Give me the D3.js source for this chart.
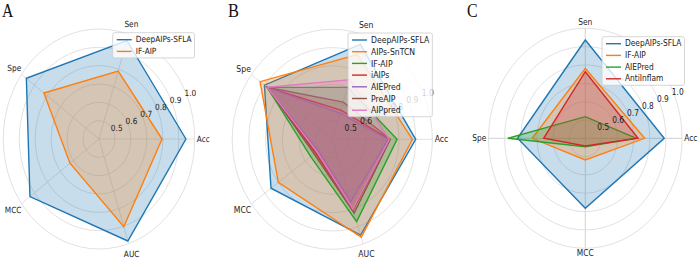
<!DOCTYPE html>
<html><head><meta charset="utf-8">
<script src="https://cdn.jsdelivr.net/npm/d3@7"></script>
<style>body{margin:0;background:#fff}svg{display:block}</style>
</head><body><svg id="chart" width="700" height="259"></svg>
<script>
// ---------- data ----------
const axesAB = ["Acc", "Sen", "Spe", "MCC", "AUC"];
const axesC = ["Acc", "Sen", "Spe", "MCC"];
const rTicks = [0.5, 0.6, 0.7, 0.8, 0.9, 1.0];
const rTickLabels = ["0.5", "0.6", "0.7", "0.8", "0.9", "1.0"];

const namesA = ["DeepAIPs-SFLA", "IF-AIP"];
const valuesA = [
  [0.945, 0.965, 0.963, 0.935, 0.985],
  [0.795, 0.790, 0.827, 0.625, 0.903]
];

const namesB = ["DeepAIPs-SFLA", "AIPs-SnTCN", "IF-AIP", "iAIPs", "AIEPred", "PreAIP", "AIPpred"];
const valuesB = [
  [0.900, 0.945, 0.903, 0.854, 0.949],
  [0.880, 0.886, 0.935, 0.800, 0.962],
  [0.788, 0.698, 0.882, 0.560, 0.872],
  [0.744, 0.567, 0.882, 0.525, 0.805],
  [0.734, 0.550, 0.882, 0.505, 0.757],
  [0.748, 0.613, 0.882, 0.535, 0.824],
  [0.742, 0.742, 0.882, 0.515, 0.800]
];

const namesC = ["DeepAIPs-SFLA", "IF-AIP", "AIEPred", "AntiInflam"];
const valuesC = [
  [0.889, 0.936, 0.820, 0.782],
  [0.768, 0.782, 0.729, 0.518],
  [0.718, 0.518, 0.880, 0.446],
  [0.727, 0.763, 0.658, 0.442]
];

const colorsA = ["#1f77b4", "#ff7f0e"];
const colorsB = ["#1f77b4", "#ff7f0e", "#2ca02c", "#d62728", "#9467bd", "#8c564b", "#e377c2"];
const colorsC = ["#1f77b4", "#ff7f0e", "#2ca02c", "#d62728"];

// ---------- drawing ----------
const svg = d3.select("#chart");
const FONT = "DejaVu Sans";
const FS = 8.5;

function drawPanel(p) {
  const g = svg.append("g").attr("transform", `translate(${p.cx},${p.cy})`);
  const r = d3.scaleLinear().domain([0.4, 1.0]).range([0, p.R]);
  const n = p.axes.length;
  const ang = d3.scaleLinear().domain([0, n]).range([0, 2 * Math.PI]);
  const px = (i, v) => p.s * r(v) * Math.cos(ang(i));
  const py = (i, v) => -r(v) * Math.sin(ang(i));

  // grid circles (drawn squashed like the reference)
  g.selectAll("ellipse.grid").data(rTicks).join("ellipse")
    .attr("class", "grid")
    .attr("rx", d => p.s * r(d)).attr("ry", d => r(d))
    .attr("fill", "none").attr("stroke", "#d9d9d9").attr("stroke-width", 0.8);
  // spokes
  g.selectAll("line.spoke").data(p.axes).join("line")
    .attr("class", "spoke")
    .attr("x1", 0).attr("y1", 0)
    .attr("x2", (d, i) => px(i, 1.0)).attr("y2", (d, i) => py(i, 1.0))
    .attr("stroke", "#d9d9d9").attr("stroke-width", p.spokeW);

  // series
  const line = d3.line().curve(d3.curveLinearClosed);
  p.values.forEach((vals, k) => {
    const pts = vals.map((v, i) => [px(i, v), py(i, v)]);
    g.append("path").attr("d", line(pts))
      .attr("fill", "none").attr("stroke", p.colors[k]).attr("stroke-width", 1.4)
      .attr("stroke-linejoin", "miter");
    g.append("path").attr("d", line(pts))
      .attr("fill", p.colors[k]).attr("fill-opacity", 0.25).attr("stroke", "none");
  });

  // radial tick labels at 22.5 deg
  const a0 = 22.5 * Math.PI / 180;
  g.selectAll("text.rt").data(rTicks).join("text")
    .attr("class", "rt")
    .attr("transform", d => `translate(${p.s * r(d) * Math.cos(a0) + 3},${-r(d) * Math.sin(a0) - 1}) scale(${p.s},1)`)
    .attr("text-anchor", "middle")
    .attr("font-family", FONT).attr("font-size", FS).attr("fill", "#222")
    .text((d, i) => rTickLabels[i]);

  // axis labels
  g.selectAll("text.ax").data(p.axes).join("text")
    .attr("class", "ax")
    .attr("text-anchor", "middle").attr("dominant-baseline", "central")
    .attr("font-family", FONT).attr("font-size", FS).attr("fill", "#222")
    .text(d => d)
    .each(function (d, i) {
      const w = this.getComputedTextLength() * p.s;
      const a = ang(i);
      const x = p.s * (p.R + 3) * Math.cos(a) + Math.cos(a) * (w / 2 - 0.5);
      const y = -(p.R + 3) * Math.sin(a) - Math.sin(a) * p.padV;
      d3.select(this).attr("transform", `translate(${x},${y}) scale(${p.s},1)`);
    });

  // legend
  const lg = svg.append("g").attr("transform", `translate(${p.lx},${p.ly})`);
  const rowH = 11.7;
  const box = lg.append("rect").attr("x", 0).attr("y", 0)
    .attr("rx", 2).attr("fill", "#fff").attr("fill-opacity", 0.8)
    .attr("stroke", "#cccccc").attr("stroke-width", 0.8);
  let maxW = 0;
  p.names.forEach((nm, k) => {
    const y = 7 + k * rowH;
    lg.append("line").attr("x1", 4).attr("x2", 19).attr("y1", y).attr("y2", y)
      .attr("stroke", p.colors[k]).attr("stroke-width", 1.4);
    const t = lg.append("text")
      .attr("transform", `translate(23,${y}) scale(${p.s},1)`)
      .attr("dominant-baseline", "central")
      .attr("font-family", FONT).attr("font-size", FS).attr("fill", "#222").text(nm);
    maxW = Math.max(maxW, t.node().getComputedTextLength() * p.s);
  });
  box.attr("width", 23 + maxW + 3).attr("height", 7 + (p.names.length - 1) * rowH + 6.5);

  // panel letter
  svg.append("text").attr("transform", `translate(${p.letterX},17) scale(${p.s},1)`)
    .attr("font-family", "Liberation Serif").attr("font-size", 18).attr("fill", "#111")
    .text(p.letter);
}

drawPanel({cx: 99, cy: 139, R: 110, s: 0.87, padV: 8, spokeW: 0.8, axes: axesAB, names: namesA, values: valuesA, colors: colorsA, lx: 112.7, ly: 32.7, letter: "A", letterX: 2});
drawPanel({cx: 332.3, cy: 139.3, R: 110, s: 0.91, padV: 7, spokeW: 0.8, axes: axesAB, names: namesB, values: valuesB, colors: colorsB, lx: 348, ly: 33, letter: "B", letterX: 228});
drawPanel({cx: 585.3, cy: 138.3, R: 110, s: 0.88, padV: 2.5, spokeW: 1.2, axes: axesC, names: namesC, values: valuesC, colors: colorsC, lx: 602, ly: 36.7, letter: "C", letterX: 467});
</script></body></html>
